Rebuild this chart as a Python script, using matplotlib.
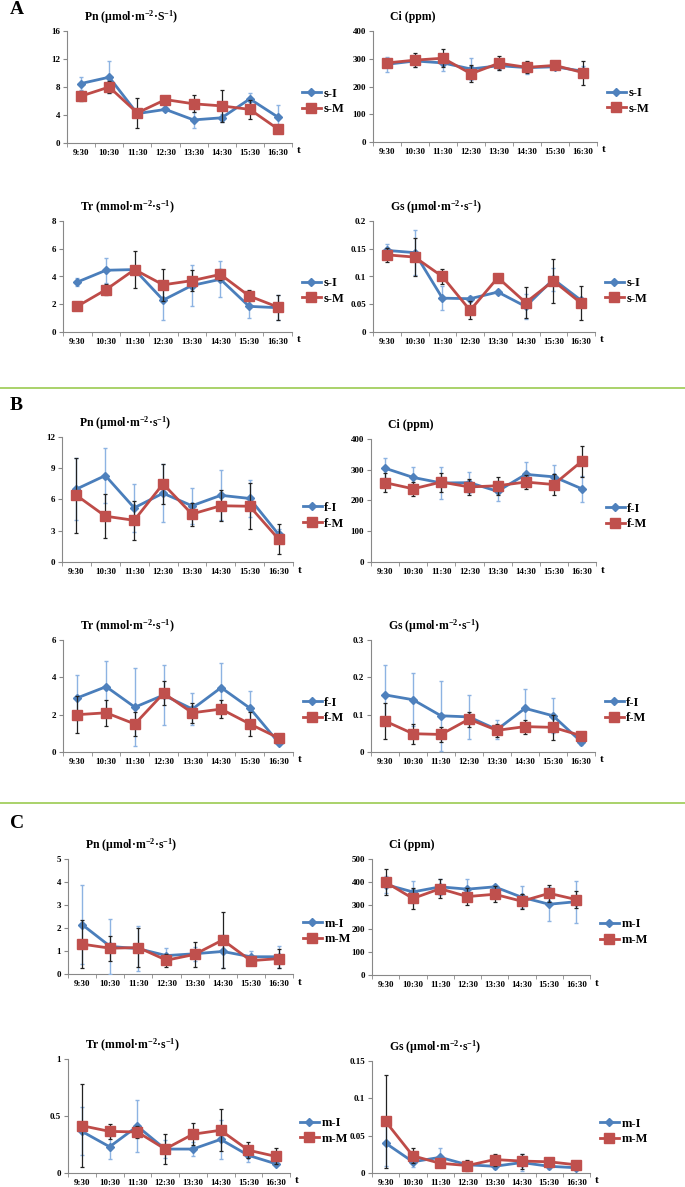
import numpy as np
import matplotlib
matplotlib.use('Agg')
from matplotlib import pyplot as plt
from matplotlib.lines import Line2D
from matplotlib.ticker import FuncFormatter

plt.rcParams['font.family'] = ['Liberation Serif', 'DejaVu Serif']
plt.rcParams['font.weight'] = 'bold'
plt.rcParams['mathtext.default'] = 'regular'

times = ['9:30', '10:30', '11:30', '12:30', '13:30', '14:30', '15:30', '16:30']

# ---- A (s) ----
a_pn_i = [8.5, 9.4, 4.2, 4.8, 3.3, 3.6, 6.3, 3.7]
a_pn_i_err = [0.9, 2.3, 0.3, 0.2, 1.1, 0.6, 0.9, 1.8]
a_pn_m = [6.7, 8.0, 4.3, 6.2, 5.6, 5.3, 4.8, 2.0]
a_pn_m_err = [0.7, 0.9, 2.1, 0.2, 1.2, 2.3, 1.3, 0.2]

a_ci_i = [280, 292, 285, 263, 275, 268, 271, 255]
a_ci_i_err = [27, 20, 28, 38, 15, 22, 5, 20]
a_ci_m = [285, 295, 302, 246, 284, 269, 276, 250]
a_ci_m_err = [15, 25, 32, 30, 25, 22, 8, 43]

a_tr_i = [3.6, 4.45, 4.5, 2.3, 3.35, 3.8, 1.85, 1.75]
a_tr_i_err = [0.3, 0.9, 0.1, 1.4, 1.5, 1.3, 0.85, 0.9]
a_tr_m = [1.85, 3.05, 4.5, 3.4, 3.7, 4.15, 2.6, 1.8]
a_tr_m_err = [0.05, 0.4, 1.35, 1.15, 0.75, 0.4, 0.4, 0.9]

a_gs_i = [0.147, 0.143, 0.061, 0.060, 0.072, 0.046, 0.095, 0.057]
a_gs_i_err = [0.012, 0.041, 0.022, 0.005, 0.003, 0.023, 0.021, 0.005]
a_gs_m = [0.139, 0.135, 0.100, 0.039, 0.098, 0.053, 0.092, 0.052]
a_gs_m_err = [0.013, 0.034, 0.013, 0.016, 0.002, 0.028, 0.040, 0.031]

# ---- B (f) ----
b_pn_i = [7.0, 8.3, 5.2, 6.6, 5.4, 6.4, 6.1, 2.65]
b_pn_i_err = [3.0, 2.65, 2.3, 2.8, 1.75, 2.4, 1.8, 0.5]
b_pn_m = [6.4, 4.4, 4.0, 7.5, 4.6, 5.4, 5.35, 2.2]
b_pn_m_err = [3.6, 2.1, 1.9, 1.95, 1.1, 1.5, 2.2, 1.45]

b_ci_i = [305, 275, 257, 258, 230, 285, 277, 238]
b_ci_i_err = [32, 33, 51, 35, 32, 40, 39, 42]
b_ci_m = [258, 238, 260, 244, 248, 260, 252, 328]
b_ci_m_err = [31, 23, 31, 26, 29, 23, 34, 50]

b_tr_i = [2.9, 3.5, 2.4, 3.05, 2.3, 3.45, 2.35, 0.5]
b_tr_i_err = [1.2, 1.4, 2.1, 1.6, 0.85, 1.3, 0.9, 0.1]
b_tr_m = [2.0, 2.1, 1.5, 3.15, 2.1, 2.3, 1.5, 0.75]
b_tr_m_err = [1.0, 0.7, 0.65, 0.65, 0.55, 0.5, 0.65, 0.05]

b_gs_i = [0.153, 0.140, 0.097, 0.094, 0.060, 0.117, 0.097, 0.028]
b_gs_i_err = [0.079, 0.071, 0.094, 0.058, 0.025, 0.053, 0.047, 0.010]
b_gs_m = [0.083, 0.049, 0.047, 0.088, 0.058, 0.068, 0.066, 0.044]
b_gs_m_err = [0.048, 0.027, 0.021, 0.020, 0.018, 0.019, 0.033, 0.006]

# ---- C (m) ----
c_pn_i = [2.15, 1.2, 1.1, 0.8, 0.88, 0.98, 0.75, 0.75]
c_pn_i_err = [1.7, 1.18, 0.98, 0.33, 0.3, 0.7, 0.23, 0.47]
c_pn_m = [1.3, 1.12, 1.15, 0.6, 0.85, 1.48, 0.58, 0.67]
c_pn_m_err = [1.05, 0.55, 0.86, 0.28, 0.53, 1.22, 0.1, 0.4]

c_ci_i = [390, 358, 380, 370, 380, 335, 305, 316]
c_ci_i_err = [35, 47, 35, 42, 10, 47, 73, 91]
c_ci_m = [400, 330, 372, 338, 348, 318, 352, 325]
c_ci_m_err = [55, 46, 41, 37, 34, 33, 36, 38]

c_tr_i = [0.365, 0.23, 0.41, 0.21, 0.21, 0.295, 0.155, 0.08]
c_tr_i_err = [0.21, 0.105, 0.23, 0.08, 0.065, 0.17, 0.06, 0.01]
c_tr_m = [0.415, 0.365, 0.36, 0.21, 0.34, 0.375, 0.2, 0.145]
c_tr_m_err = [0.365, 0.065, 0.05, 0.135, 0.095, 0.185, 0.07, 0.07]

c_gs_i = [0.040, 0.015, 0.021, 0.011, 0.009, 0.014, 0.009, 0.007]
c_gs_i_err = [0.030, 0.007, 0.013, 0.005, 0.003, 0.011, 0.004, 0.002]
c_gs_m = [0.069, 0.023, 0.013, 0.010, 0.018, 0.016, 0.015, 0.011]
c_gs_m_err = [0.062, 0.010, 0.004, 0.007, 0.008, 0.010, 0.004, 0.004]

pn_title_a = 'Pn (µmol·m$^{-2}$·S$^{-1}$)'
pn_title = 'Pn (µmol·m$^{-2}$·s$^{-1}$)'
ci_title = 'Ci (ppm)'
tr_title = 'Tr (mmol·m$^{-2}$·s$^{-1}$)'
gs_title = 'Gs (µmol·m$^{-2}$·s$^{-1}$)'

W, H = 685, 1187
fig = plt.figure(figsize=(W / 100, H / 100), dpi=100)

blue = '#4A7EBB'
red = '#BE4B48'
blue_err = '#8DB3E2'


def panel(box, vi, ei, vm, em, labels, title, yticks):
    x0, x1, yt, yb = box
    ax = fig.add_axes([x0 / W, 1 - yb / H, (x1 - x0) / W, (yb - yt) / H])
    x = np.arange(len(times))
    ax.errorbar(x, vi, yerr=ei, color=blue, ecolor=blue_err, elinewidth=1,
                capsize=1.5, capthick=1, lw=2, marker='D', ms=4.5,
                mfc='#4F81BD', mec='#4F81BD', zorder=3)
    ax.errorbar(x, vm, yerr=em, color=red, ecolor='#222222', elinewidth=0.9,
                capsize=1.5, capthick=0.9, lw=2, marker='s', ms=6.5,
                mfc='#C0504D', mec='#C0504D', zorder=4)
    ax.set_xlim(-0.5, len(times) - 0.5)
    ax.set_ylim(yticks[0], yticks[-1])
    ax.set_yticks(yticks)
    ax.yaxis.set_major_formatter(FuncFormatter(lambda v, p: '%g' % v))
    ax.set_xticks(x)
    ax.set_xticklabels(times)
    ax.set_xticks(np.arange(-0.5, len(times)), minor=True)
    ax.tick_params(axis='x', which='major', length=0, pad=4, labelsize=6.5)
    ax.tick_params(axis='x', which='minor', length=3, color='#888888')
    ax.tick_params(axis='y', length=3, color='#888888', labelsize=6.5, pad=2)
    for s in ['top', 'right']:
        ax.spines[s].set_visible(False)
    for s in ['left', 'bottom']:
        ax.spines[s].set_color('#888888')
        ax.spines[s].set_linewidth(0.8)
    ax.text(1.02, -0.07, 't', transform=ax.transAxes, fontsize=8,
            fontweight='bold', va='center', ha='left')
    fig.text((x0 + 17) / W, 1 - (yt - 14) / H, title, fontsize=8.5,
             fontweight='bold', va='center', ha='left')
    handles = [Line2D([], [], color=blue, lw=2, marker='D', ms=4.5,
                      mfc='#4F81BD', mec='#4F81BD'),
               Line2D([], [], color=red, lw=2, marker='s', ms=6.5,
                      mfc='#C0504D', mec='#C0504D')]
    ymid = yb - 0.37 * (yb - yt)
    ax.legend(handles, labels, loc='center left',
              bbox_to_anchor=((x1 + 10) / W, 1 - ymid / H),
              bbox_transform=fig.transFigure, borderaxespad=0, borderpad=0,
              frameon=False, handlelength=1.5, handletextpad=0.2,
              labelspacing=0.3, prop={'weight': 'bold', 'size': 9})
    return ax


panel((67, 292, 31, 143), a_pn_i, a_pn_i_err, a_pn_m, a_pn_m_err,
      ['s-I', 's-M'], pn_title_a, [0, 4, 8, 12, 16])
panel((373, 597, 31, 142), a_ci_i, a_ci_i_err, a_ci_m, a_ci_m_err,
      ['s-I', 's-M'], ci_title, [0, 100, 200, 300, 400])
panel((63, 292, 221, 332), a_tr_i, a_tr_i_err, a_tr_m, a_tr_m_err,
      ['s-I', 's-M'], tr_title, [0, 2, 4, 6, 8])
panel((373, 595, 221, 332), a_gs_i, a_gs_i_err, a_gs_m, a_gs_m_err,
      ['s-I', 's-M'], gs_title, [0, 0.05, 0.1, 0.15, 0.2])

panel((62, 293, 437, 562), b_pn_i, b_pn_i_err, b_pn_m, b_pn_m_err,
      ['f-I', 'f-M'], pn_title, [0, 3, 6, 9, 12])
panel((371, 596, 439, 562), b_ci_i, b_ci_i_err, b_ci_m, b_ci_m_err,
      ['f-I', 'f-M'], ci_title, [0, 100, 200, 300, 400])
panel((63, 293, 640, 752), b_tr_i, b_tr_i_err, b_tr_m, b_tr_m_err,
      ['f-I', 'f-M'], tr_title, [0, 2, 4, 6])
panel((371, 595, 640, 752), b_gs_i, b_gs_i_err, b_gs_m, b_gs_m_err,
      ['f-I', 'f-M'], gs_title, [0, 0.1, 0.2, 0.3])

panel((68, 293, 859, 974), c_pn_i, c_pn_i_err, c_pn_m, c_pn_m_err,
      ['m-I', 'm-M'], pn_title, [0, 1, 2, 3, 4, 5])
panel((372, 590, 859, 975), c_ci_i, c_ci_i_err, c_ci_m, c_ci_m_err,
      ['m-I', 'm-M'], ci_title, [0, 100, 200, 300, 400, 500])
panel((68, 290, 1059, 1173), c_tr_i, c_tr_i_err, c_tr_m, c_tr_m_err,
      ['m-I', 'm-M'], tr_title, [0, 0.5, 1])
panel((372, 590, 1061, 1173), c_gs_i, c_gs_i_err, c_gs_m, c_gs_m_err,
      ['m-I', 'm-M'], gs_title, [0, 0.05, 0.1, 0.15])

# section letters and separators
for letter, y in [('A', 10), ('B', 406), ('C', 823)]:
    fig.text(10 / W, 1 - y / H, letter, fontsize=14, fontweight='bold',
             va='center', ha='left')
for y in [388, 803]:
    fig.add_artist(plt.Line2D([0, 1], [1 - y / H, 1 - y / H],
                              color='#9BCB50', lw=1.2, transform=fig.transFigure))

fig.savefig('out.png', dpi=100)
